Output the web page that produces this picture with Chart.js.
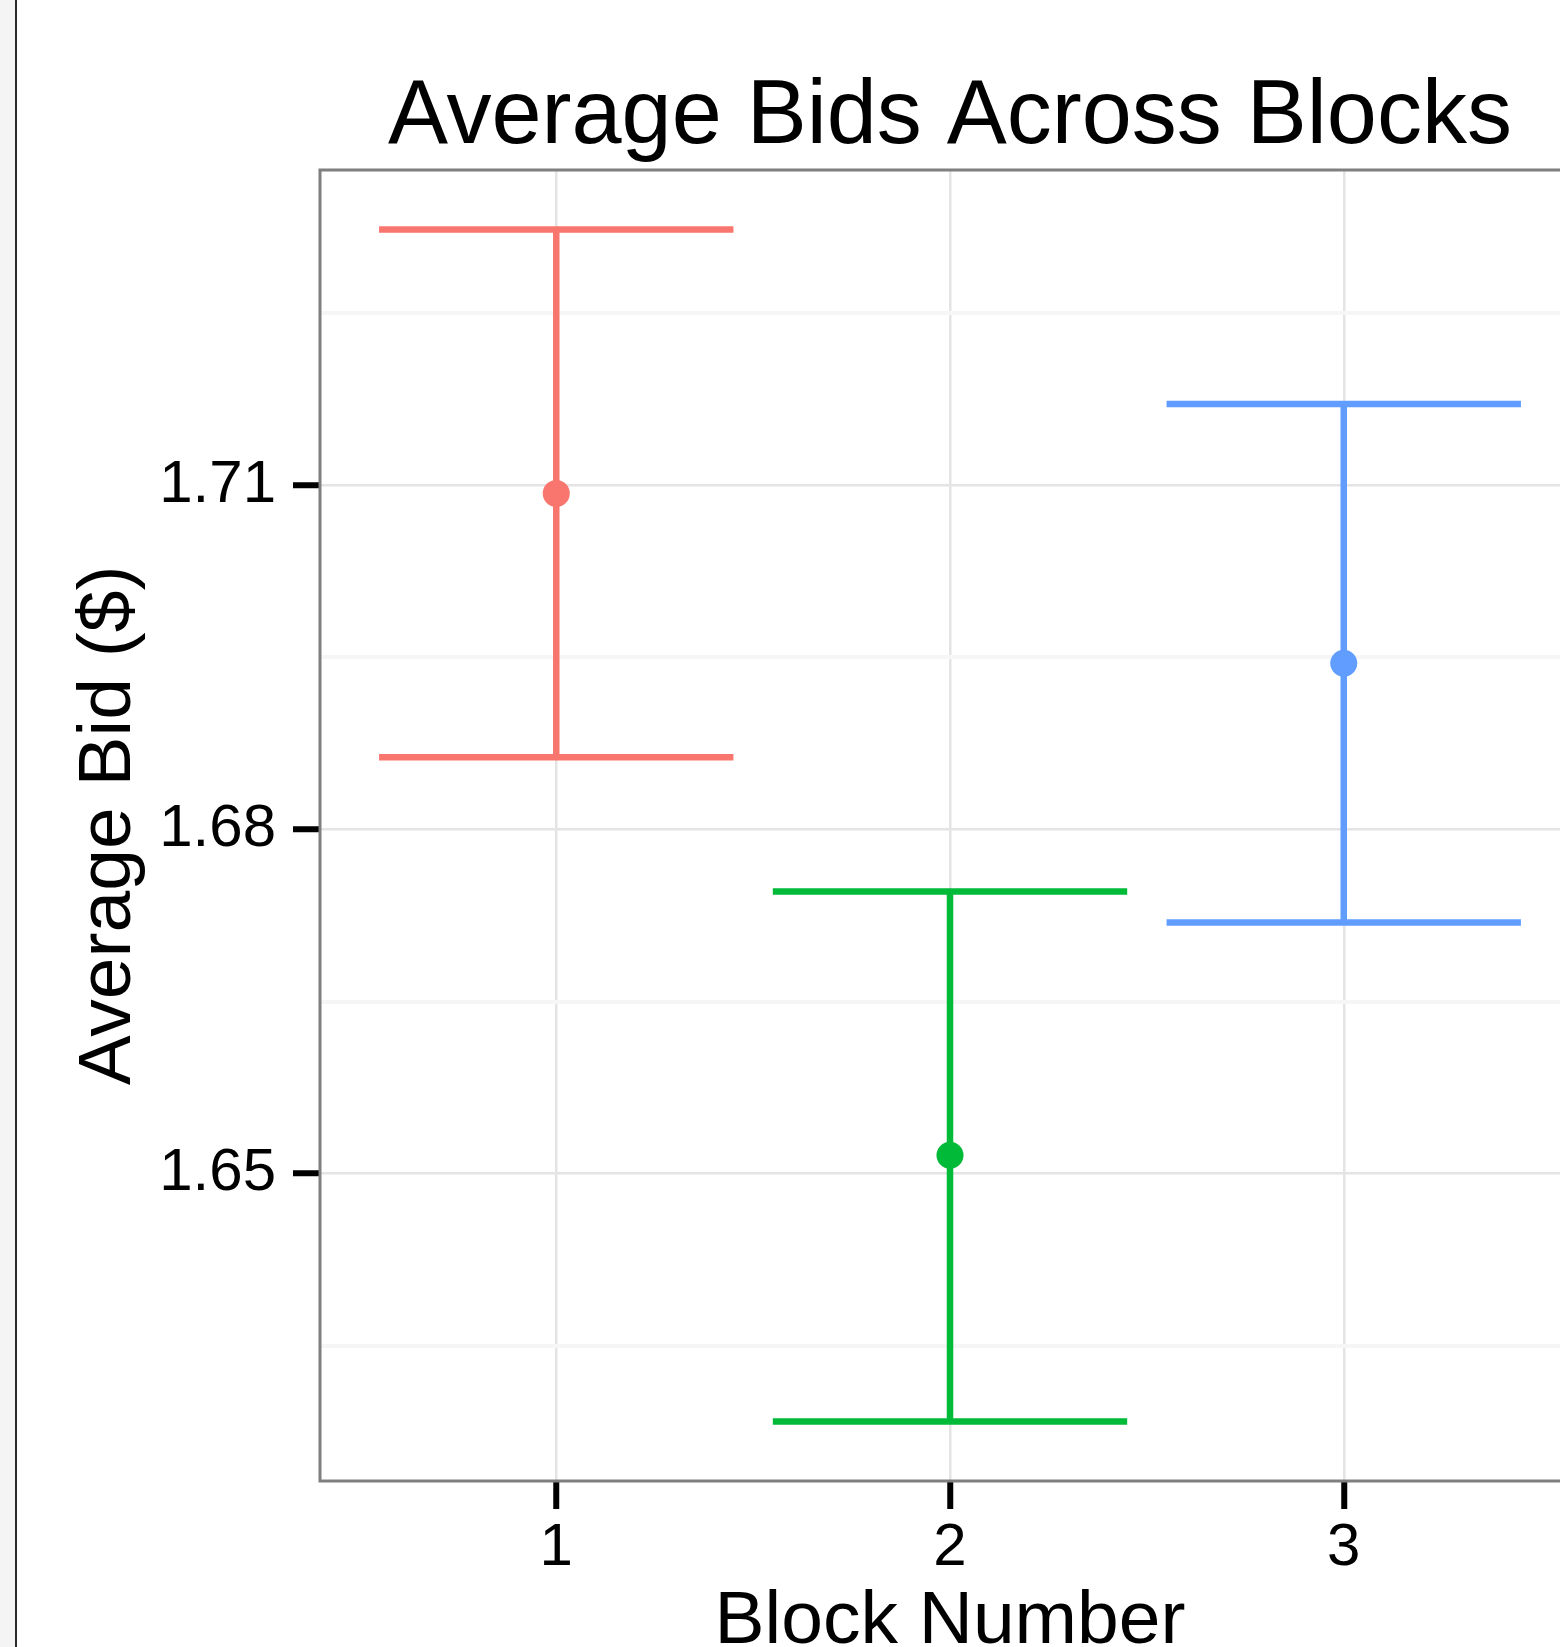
<!DOCTYPE html>
<html>
<head>
<meta charset="utf-8">
<script src="https://cdn.jsdelivr.net/npm/chart.js@4.4.1/dist/chart.umd.min.js"></script>
<style>
  html, body { margin: 0; padding: 0; width: 1560px; height: 1647px; overflow: hidden; background: #fff; }
  .strip { position: absolute; left: 0; top: 0; width: 15px; height: 1647px; background: #f4f4f4; border-right: 2px solid #2a2a2a; }
  #wrap { position: absolute; left: 0; top: 0; width: 1600px; height: 1700px; }
</style>
</head>
<body>
<div class="strip"></div>
<div id="wrap"><canvas id="bids" width="1600" height="1700"></canvas></div>
<script>
// data
const blocks = [1, 2, 3];
const meanBid = [1.7093, 1.6516, 1.6945];
const lowBid = [1.6863, 1.6284, 1.6719];
const highBid = [1.7323, 1.6746, 1.7171];
const yMajor = [1.65, 1.68, 1.71];
const yMinor = [1.635, 1.665, 1.695, 1.725];
const blockColors = ['#F8766D', '#00BA38', '#619CFF'];

const capHalf = 0.45;
const font = "'Liberation Sans', Arial, Helvetica, sans-serif";

// ggplot style padding of the y range
const yLo = Math.min(...lowBid), yHi = Math.max(...highBid);
const yPad = (yHi - yLo) * 0.05;

const isMajor = v => yMajor.some(m => Math.abs(m - v) < 1e-6);

let datasets = [{
  data: blocks.map((b, i) => ({ x: b, y: meanBid[i] })),
  pointRadius: 13.5,
  pointBorderWidth: 0,
  pointBackgroundColor: blockColors,
  showLine: false
}];

blocks.forEach((b, i) => {
  const segs = [
    [{ x: b, y: lowBid[i] }, { x: b, y: highBid[i] }],
    [{ x: b - capHalf, y: highBid[i] }, { x: b + capHalf, y: highBid[i] }],
    [{ x: b - capHalf, y: lowBid[i] }, { x: b + capHalf, y: lowBid[i] }]
  ];
  segs.forEach(s => datasets.push({
    data: s,
    showLine: true,
    borderColor: blockColors[i],
    borderWidth: 6.5,
    pointRadius: 0
  }));
});

const panel = {
  id: 'panel',
  afterDatasetsDraw(chart) {
    const { ctx, chartArea: a } = chart;
    ctx.save();
    ctx.strokeStyle = '#7f7f7f';
    ctx.lineWidth = 3;
    ctx.strokeRect(a.left, a.top, a.right - a.left, a.bottom - a.top);
    ctx.fillStyle = '#000';
    ctx.font = '90px ' + font;
    ctx.textAlign = 'center';
    ctx.textBaseline = 'alphabetic';
    ctx.fillText('Average Bids Across Blocks', (a.left + a.right) / 2, 143);
    ctx.restore();
  }
};

new Chart(document.getElementById('bids'), {
  type: 'scatter',
  data: { datasets: datasets },
  plugins: [panel],
  options: {
    responsive: false,
    animation: false,
    devicePixelRatio: 1,
    layout: { padding: { top: 170, right: 20, left: 0, bottom: 0 } },
    plugins: { legend: { display: false }, tooltip: { enabled: false } },
    scales: {
      x: {
        type: 'linear',
        min: 0.4,
        max: 3.6,
        afterBuildTicks: s => { s.ticks = blocks.map(v => ({ value: v })); },
        afterFit: s => { s.height = 219; },
        border: { display: false },
        grid: { color: '#e4e4e4', lineWidth: 2.5, tickColor: '#000', tickWidth: 6, tickLength: 28 },
        ticks: { color: '#000', padding: 3, font: { family: font, size: 60 }, callback: v => String(v) },
        title: { display: true, text: 'Block Number', color: '#000', font: { family: font, size: 75 }, padding: { top: 0, bottom: 33 } }
      },
      y: {
        min: yLo - yPad,
        max: yHi + yPad,
        afterBuildTicks: s => { s.ticks = yMinor.concat(yMajor).sort((a, b) => a - b).map(v => ({ value: v })); },
        afterFit: s => { s.width = 320; },
        border: { display: false },
        grid: {
          color: c => (c.tick && isMajor(c.tick.value)) ? '#e4e4e4' : '#f6f6f6',
          lineWidth: c => (c.tick && isMajor(c.tick.value)) ? 2.5 : 4,
          tickColor: c => (c.tick && isMajor(c.tick.value)) ? '#000' : 'rgba(0,0,0,0)',
          tickWidth: 6,
          tickLength: 27
        },
        ticks: {
          color: '#000', padding: 17, autoSkip: false,
          font: { family: font, size: 60 },
          callback: v => isMajor(v) ? v.toFixed(2) : ''
        },
        title: { display: true, text: 'Average Bid ($)', color: '#000', font: { family: font, size: 75 }, padding: { top: 64, bottom: 0 } }
      }
    }
  }
});
</script>
</body>
</html>
